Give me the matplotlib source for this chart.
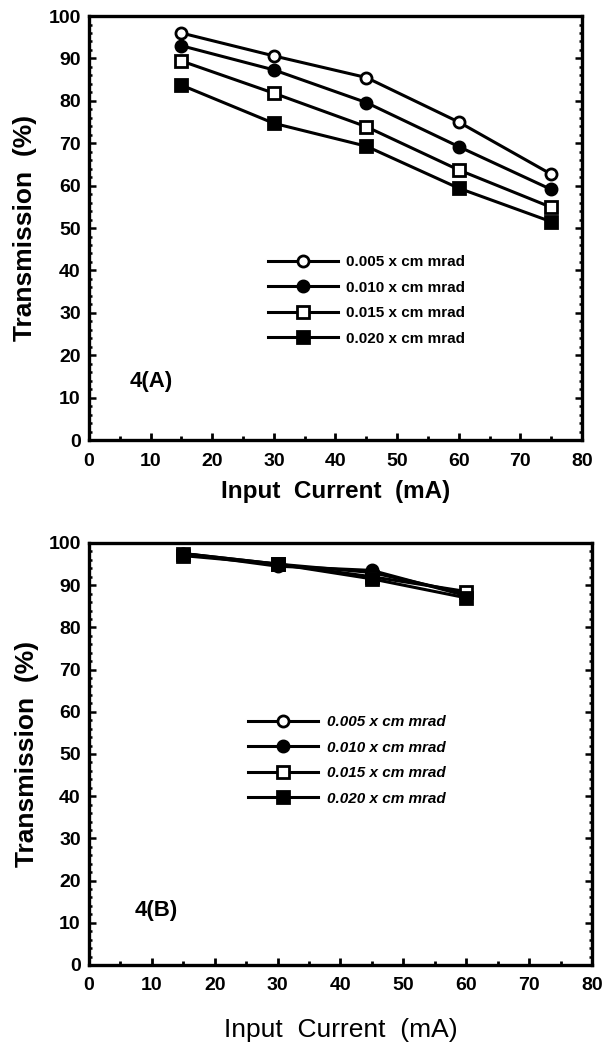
import matplotlib
matplotlib.use("Agg")
import matplotlib.pyplot as plt
from matplotlib.ticker import MultipleLocator

plt.rcParams['font.family'] = ['Liberation Sans', 'DejaVu Sans']

# data
current_a = [15, 30, 45, 60, 75]
trans_a_005 = [96, 90.6, 85.5, 75, 62.7]
trans_a_010 = [93, 87.3, 79.6, 69.2, 59.1]
trans_a_015 = [89.4, 81.8, 73.9, 63.7, 54.9]
trans_a_020 = [83.7, 74.7, 69.3, 59.4, 51.5]

current_b = [15, 30, 45, 60]
trans_b_005 = [97.5, 95, 93, 88]
trans_b_010 = [97.5, 94.5, 93.5, 87.5]
trans_b_015 = [97.5, 95, 92, 88.5]
trans_b_020 = [97, 95, 91.5, 87]

labels = ['0.005 x cm mrad', '0.010 x cm mrad', '0.015 x cm mrad', '0.020 x cm mrad']
markers = ['o', 'o', 's', 's']
faces = ['white', 'black', 'white', 'black']

fig = plt.figure(figsize=(6.07, 10.42), dpi=100)
ax_a = fig.add_axes([0.1466, 0.5777, 0.8122, 0.4069])
ax_b = fig.add_axes([0.1466, 0.0739, 0.8287, 0.4050])


def style_axes(ax):
    ax.set_xlim(0, 80)
    ax.set_ylim(0, 100)
    for sp in ax.spines.values():
        sp.set_linewidth(2.4)
    ax.xaxis.set_major_locator(MultipleLocator(10))
    ax.xaxis.set_minor_locator(MultipleLocator(5))
    ax.yaxis.set_major_locator(MultipleLocator(10))
    ax.yaxis.set_minor_locator(MultipleLocator(2))
    ax.tick_params(axis='x', which='both', direction='in', top=False, bottom=True,
                   width=2)
    ax.tick_params(axis='x', which='major', length=5, pad=9)
    ax.tick_params(axis='x', which='minor', length=3)
    ax.tick_params(axis='y', which='both', direction='in', left=True, right=True,
                   width=1.8)
    ax.tick_params(axis='y', which='major', length=5, pad=6)
    ax.tick_params(axis='y', which='minor', length=2.5)
    for lab in ax.get_xticklabels() + ax.get_yticklabels():
        lab.set_fontsize(14)
        lab.set_fontweight('bold')
    ax.set_ylabel('Transmission  (%)', fontsize=19, fontweight='bold')


series_a = [trans_a_005, trans_a_010, trans_a_015, trans_a_020]
for vals, lab, m, fc in zip(series_a, labels, markers, faces):
    ax_a.plot(current_a, vals, color='black', lw=2.2, marker=m, ms=8,
              mfc=fc, mec='black', mew=2, label=lab)

series_b = [trans_b_005, trans_b_010, trans_b_015, trans_b_020]
for vals, lab, m, fc in zip(series_b, labels, markers, faces):
    ax_b.plot(current_b, vals, color='black', lw=2.2, marker=m, ms=8,
              mfc=fc, mec='black', mew=2, label=lab)

style_axes(ax_a)
style_axes(ax_b)

ax_a.set_xlabel('Input  Current  (mA)', fontsize=17.5, fontweight='bold')
ax_a.xaxis.set_label_coords(0.5, -0.095)
ax_a.yaxis.set_label_coords(-0.105, 0.5)
ax_b.set_xlabel('Input  Current  (mA)', fontsize=19)
ax_b.xaxis.set_label_coords(0.5, -0.125)
ax_b.yaxis.set_label_coords(-0.10, 0.5)

ax_a.text(0.083, 0.137, '4(A)', transform=ax_a.transAxes, fontsize=16,
          fontweight='bold', va='center', ha='left')
ax_b.text(0.091, 0.13, '4(B)', transform=ax_b.transAxes, fontsize=16,
          fontweight='bold', va='center', ha='left')

leg_a = ax_a.legend(loc='upper left', bbox_to_anchor=(0.363, 0.436), frameon=False,
                    borderpad=0, borderaxespad=0, handlelength=4.6,
                    handletextpad=0.5, labelspacing=0.75,
                    prop={'size': 11, 'weight': 'bold'})
leg_b = ax_b.legend(loc='upper left', bbox_to_anchor=(0.316, 0.592), frameon=False,
                    borderpad=0, borderaxespad=0, handlelength=4.6,
                    handletextpad=0.6, labelspacing=0.75,
                    prop={'size': 11, 'weight': 'bold', 'style': 'italic'})

fig.savefig('out.png', dpi=100)
